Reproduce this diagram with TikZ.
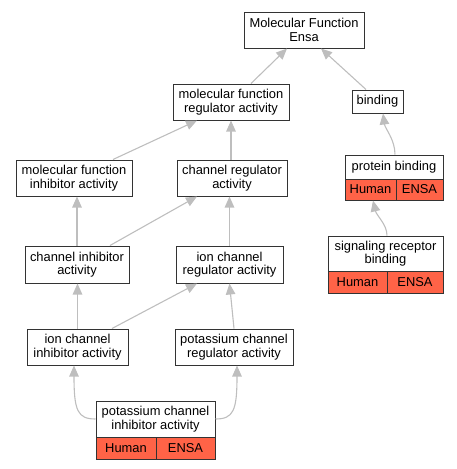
\documentclass[tikz,border=0pt]{standalone}
\usepackage{fontspec}
\setmainfont{Liberation Sans}
\usetikzlibrary{arrows.meta,calc}
\definecolor{tomatoc}{HTML}{FF6347}
\definecolor{edgec}{HTML}{BEBEBE}
\definecolor{linec}{HTML}{333333}
\tikzset{
  gobox/.style={draw=linec, line width=1pt, fill=white, align=center, inner sep=0pt,
    font=\fontsize{12.9}{13.5}\selectfont},
  cell/.style={gobox, fill=tomatoc},
  edge/.style={draw=edgec, line width=1.1pt, -{Triangle[length=11pt,width=9.5pt,fill=edgec]}}
}
\begin{document}
\begin{tikzpicture}[x=1pt,y=-1pt]
\useasboundingbox (0,0) rectangle (457,469);
% nodes
\node[gobox, minimum width=120pt, minimum height=36pt] (mf) at (304,30) {Molecular Function\\Ensa};
\node[gobox, minimum width=116pt, minimum height=36pt] (mfra) at (231,102) {molecular function\\regulator activity};
\node[gobox, minimum width=51pt, minimum height=23pt] (bind) at (377.5,101.5) {binding};
\node[gobox, minimum width=116pt, minimum height=36pt] (mfia) at (74,178) {molecular function\\inhibitor activity};
\node[gobox, minimum width=110pt, minimum height=36pt] (cra) at (232,178) {channel regulator\\activity};
\node[gobox, minimum width=98pt, minimum height=24pt] (pb) at (394,167) {protein binding};
\node[cell, minimum width=51pt, minimum height=21pt] (pbh) at (370.5,189.5) {Human};
\node[cell, minimum width=47pt, minimum height=21pt] (pbe) at (419.5,189.5) {ENSA};
\node[gobox, minimum width=115pt, minimum height=35pt] (srb) at (385.5,253.5) {signaling receptor\\binding};
\node[cell, minimum width=59pt, minimum height=22pt] (srbh) at (357.5,282) {Human};
\node[cell, minimum width=56pt, minimum height=22pt] (srbe) at (415,282) {ENSA};
\node[gobox, minimum width=104pt, minimum height=37pt] (cia) at (77,264.5) {channel inhibitor\\activity};
\node[gobox, minimum width=107pt, minimum height=37pt] (icr) at (229.5,264.5) {ion channel\\regulator activity};
\node[gobox, minimum width=101pt, minimum height=36pt] (ici) at (77.5,347) {ion channel\\inhibitor activity};
\node[gobox, minimum width=118pt, minimum height=36pt] (pcr) at (234,347) {potassium channel\\regulator activity};
\node[gobox, minimum width=119pt, minimum height=36pt] (pci) at (155.5,419) {potassium channel\\inhibitor activity};
\node[cell, minimum width=60pt, minimum height=22pt] (pcih) at (126,448) {Human};
\node[cell, minimum width=59pt, minimum height=22pt] (pcie) at (185.5,448) {ENSA};
% edges
\draw[edge] ($(mfra.north)+(20,0)$) -- ($(mf.south)+(-17,0)$);
\draw[edge] ($(bind.north)+(-11.5,0)$) -- ($(mf.south)+(17,0)$);
\draw[edge] ($(mfia.north)+(39,0)$) -- ($(mfra.south)+(-34,0)$);
\draw[edge] (mfra.south |- cra.north) -- (mfra.south);
\draw[edge] ($(pb.north)+(1,0)$) .. controls ($(pb.north)+(1,-15)$) and ($(bind.south)+(7.5,15)$) .. ($(bind.south)+(5.5,0)$);
\draw[edge] ($(srb.north)+(1.5,0)$) .. controls ($(srb.north)+(1.5,-11)$) and ($(pbh.south)+(6,15)$) .. ($(pbh.south)+(2.5,0)$);
\draw[edge] (cia.north) -- (cia.north |- mfia.south);
\draw[edge] ($(cia.north)+(33,0)$) -- ($(cra.south)+(-35,0)$);
\draw[edge] (icr.north) -- (icr.north |- cra.south);
\draw[edge] (ici.north) -- (ici.north |- cia.south);
\draw[edge] ($(ici.north)+(34.5,0)$) -- ($(icr.south)+(-32.5,0)$);
\draw[edge] (pcr.north) -- (icr.south);
\draw[edge] (pci.west) .. controls ($(pci.west)+(-18,0)$) and ($(ici.south)+(-3.5,45)$) .. ($(ici.south)+(-3.5,0)$);
\draw[edge] (pci.east) .. controls ($(pci.east)+(18,0)$) and ($(pcr.south)+(3,45)$) .. ($(pcr.south)+(3,0)$);
\end{tikzpicture}
\end{document}
